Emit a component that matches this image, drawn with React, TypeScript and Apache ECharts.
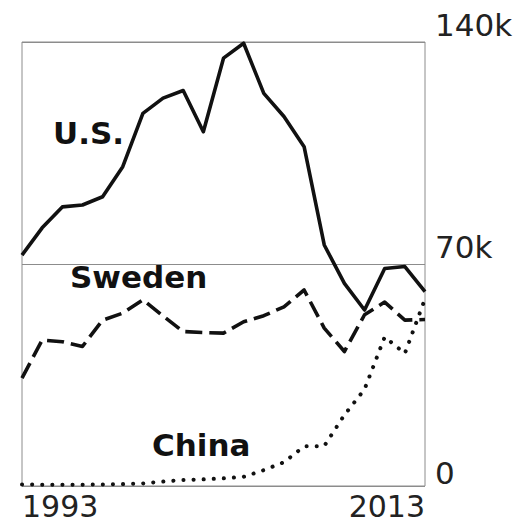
import React, { useEffect, useRef } from "react";
import * as echarts from "echarts";

const years = [
  "1993", "1994", "1995", "1996", "1997", "1998", "1999", "2000", "2001", "2002",
  "2003", "2004", "2005", "2006", "2007", "2008", "2009", "2010", "2011", "2012", "2013",
];
// values in thousands
const usValues = [72.8, 81.4, 88.0, 88.6, 91.2, 100.7, 117.5, 122.3, 124.7, 111.7, 134.9, 139.6, 123.8, 116.5, 107.0, 76.0, 63.9, 55.5, 68.6, 69.2, 61.3];
const swedenValues = [34, 46, 45.5, 44, 52.3, 54.5, 58.7, 53.6, 48.7, 48.4, 48.2, 51.8, 53.7, 56.5, 61.8, 49.8, 42.4, 54, 58, 52.3, 52.5];
const chinaValues = [0.5, 0.4, 0.4, 0.4, 0.5, 0.6, 0.8, 1.4, 1.9, 2.1, 2.4, 2.9, 5.0, 7.5, 12.5, 12.6, 22.4, 30.5, 47, 41.8, 59];
const yTicks = [0, 70000, 140000];
const tickLabels = ["0", "70k", "140k"];

const FONT = '"DejaVu Sans", sans-serif';

export default function App() {
  const ref = useRef<HTMLDivElement>(null);
  useEffect(() => {
    if (!ref.current) return;
    const chart = echarts.init(ref.current, null, { renderer: "svg" });
    const toK = (a: number[]) => a.map((v) => Math.round(v * 1000));
    chart.setOption({
      animation: false,
      backgroundColor: "#ffffff",
      grid: {
        left: 22,
        right: 97,
        top: 42,
        bottom: 41,
        show: true,
        borderColor: "#8c8c8c",
        borderWidth: 1,
      },
      xAxis: {
        type: "category",
        data: years,
        boundaryGap: false,
        axisLine: { show: false },
        axisTick: { show: false },
        splitLine: { show: false },
        axisLabel: {
          interval: (i: number) => i === 0 || i === years.length - 1,
          margin: 5,
          fontSize: 30,
          lineHeight: 30,
          fontFamily: FONT,
          color: "#222",
          alignMinLabel: "left",
          alignMaxLabel: "right",
        },
      },
      yAxis: {
        type: "value",
        position: "right",
        min: yTicks[0],
        max: yTicks[2],
        interval: yTicks[1],
        axisLine: { show: false },
        axisTick: { show: false },
        splitLine: { show: true, lineStyle: { color: "#8c8c8c", width: 1 } },
        axisLabel: {
          margin: 10,
          fontSize: 31,
          fontFamily: FONT,
          color: "#222",
          formatter: (v: number) => {
            const idx = yTicks.indexOf(v);
            const t = idx >= 0 ? tickLabels[idx] : "";
            return v === 0 ? "{z|" + t + "}" : "{a|" + t + "}";
          },
          rich: {
            a: { fontSize: 31, fontFamily: FONT, color: "#222", padding: [0, 0, 34, 0] },
            z: { fontSize: 31, fontFamily: FONT, color: "#222", padding: [0, 0, 27, 0] },
          },
        },
      },
      graphic: [
        {
          type: "text",
          x: 53,
          y: 133,
          style: { text: "U.S.", fontSize: 31, fontWeight: "bold", fontFamily: FONT, fill: "#111", verticalAlign: "middle" },
        },
        {
          type: "text",
          x: 70,
          y: 277,
          style: { text: "Sweden", fontSize: 31, fontWeight: "bold", fontFamily: FONT, fill: "#111", verticalAlign: "middle" },
        },
        {
          type: "text",
          x: 152,
          y: 445,
          style: { text: "China", fontSize: 31, fontWeight: "bold", fontFamily: FONT, fill: "#111", verticalAlign: "middle" },
        },
      ],
      series: [
        {
          name: "U.S.",
          type: "line",
          data: toK(usValues),
          symbol: "none",
          lineStyle: { color: "#111", width: 3.6, join: "round" },
        },
        {
          name: "Sweden",
          type: "line",
          data: toK(swedenValues),
          symbol: "none",
          lineStyle: { color: "#111", width: 3.6, type: [17, 7], join: "round" },
        },
        {
          name: "China",
          type: "line",
          data: toK(chinaValues),
          symbol: "none",
          lineStyle: { color: "#111", width: 4, type: [0.1, 10], cap: "round" },
        },
      ],
    });
    return () => chart.dispose();
  }, []);
  return <div ref={ref} style={{ width: 522, height: 527, margin: -8 }} />;
}
